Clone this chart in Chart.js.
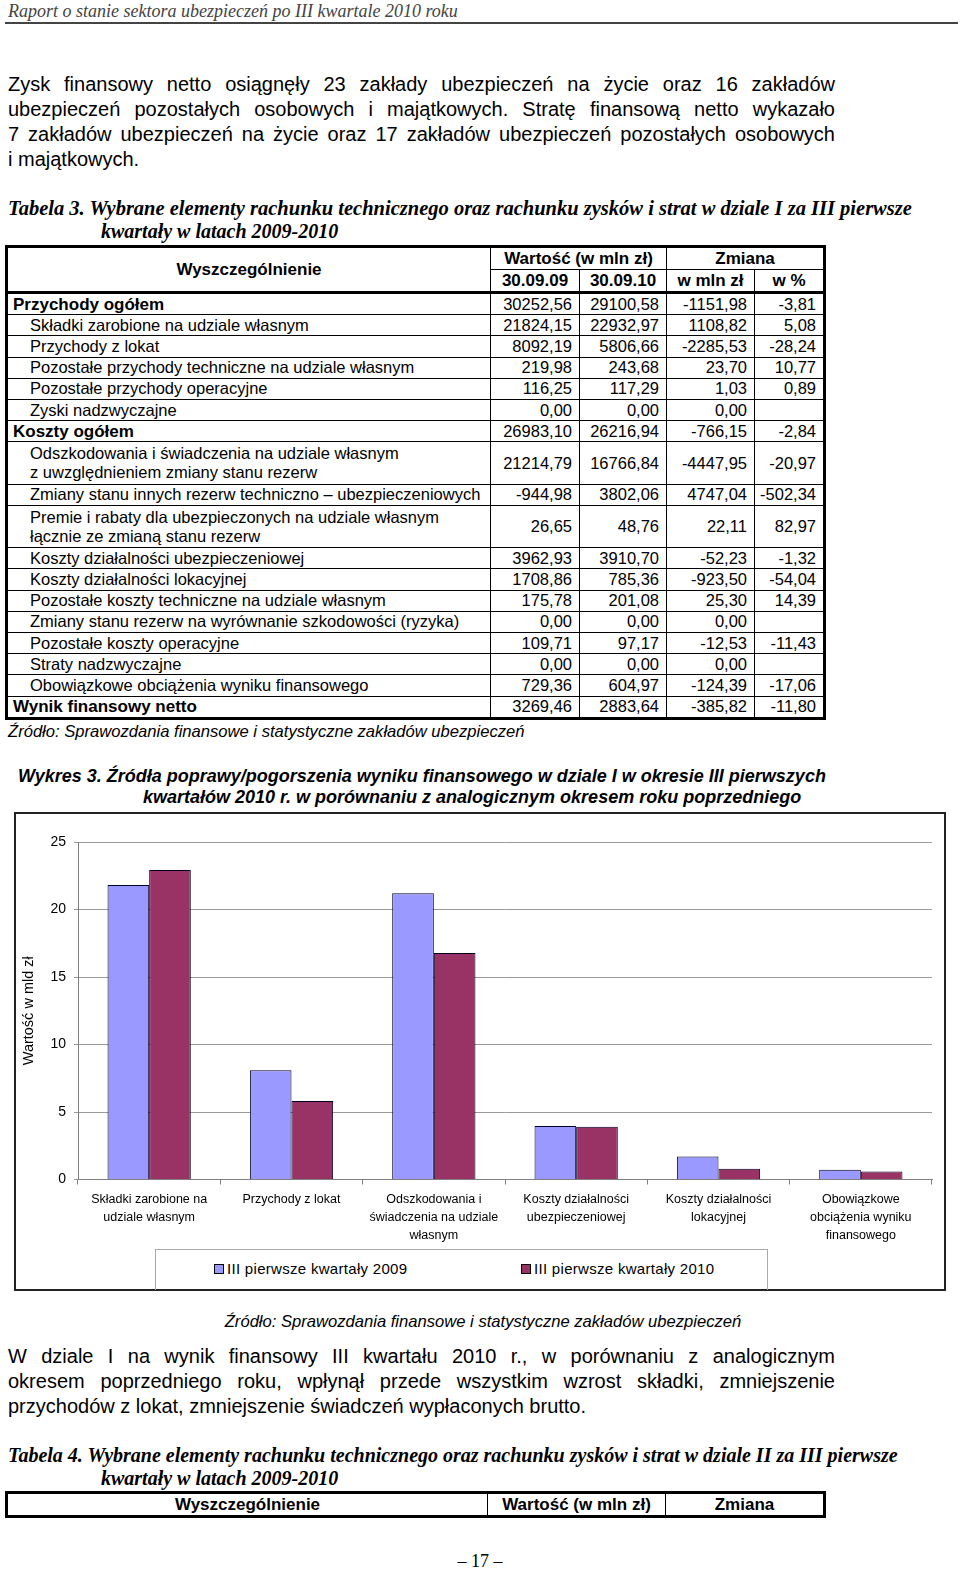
<!DOCTYPE html>
<html lang="pl">
<head>
<meta charset="utf-8">
<title>Raport o stanie sektora ubezpieczeń</title>
<script src="https://cdn.jsdelivr.net/npm/chart.js@4/dist/chart.umd.min.js"></script>
<style>
    html, body { margin: 0; padding: 0; background: #fff; }
    #page { position: relative; width: 960px; height: 1571px; overflow: hidden; color: #000; }
    .abs { position: absolute; }
    .head { left: 8px; top: 1px; font: italic 18px/20px "Liberation Serif", serif; color: #444; white-space: nowrap; }
    .rule { left: 5px; top: 22px; width: 953px; height: 2px; background: #444; }
    .para { left: 8px; width: 827px; font: 20px/25px "Liberation Sans", Arial, sans-serif; }
    .para div { white-space: nowrap; text-align: justify; text-align-last: justify; }
    .para div.last { text-align-last: left; }
    .ttl { font: italic bold 20px/23px "Liberation Serif", serif; white-space: nowrap; }
    .ttl span { display: block; }
    .ttl span + span { padding-left: 93px; }
    .src { font: italic 16.6px/20px "Liberation Sans", Arial, sans-serif; white-space: nowrap; }
    .wyk { font: italic bold 18px/21px "Liberation Sans", Arial, sans-serif; white-space: nowrap; }
    table { border-collapse: collapse; table-layout: fixed; font: 16.5px "Liberation Sans", Arial, sans-serif; }
    table.t { border: 3px solid #000; }
    table.t td, table.t th { border: 1px solid #000; padding: 0 7px 0 3px; white-space: nowrap; overflow: hidden; }
    table.t th { font-weight: bold; font-size: 17px; text-align: center; height: 21px; line-height: 18px; padding: 0 2px; }
    table.t tr.hb th { border-bottom: 3px solid #000; }
    table.t td { text-align: right; height: 20.2px; line-height: 19px; }
    table.t td.n { text-align: left; padding-left: 22px; }
    table.t td.n.b { font-weight: bold; font-size: 17px; padding-left: 5px; }
    table.t tr.dbl td { height: 41.4px; }
    #chartBox { left: 14px; top: 812px; width: 932px; height: 479px; border: 2px solid #222; box-sizing: border-box; }
    #chartWrap { left: 16px; top: 815px; width: 928px; height: 434px; }
    #legendBox { left: 155px; top: 1249px; width: 613px; height: 41px; border: 1px solid #aaa; border-bottom: none; box-sizing: border-box; font: 15px "Liberation Sans", Arial, sans-serif; }
    .lg { position: absolute; top: 10px; white-space: nowrap; line-height: 17px; letter-spacing: 0.3px; }
    .lg i { display: inline-block; width: 8px; height: 8px; border: 1px solid #000; margin-right: 3px; vertical-align: 0px; }
    .pnum { left: 0; width: 960px; top: 1551px; text-align: center; font: 18px/20px "Liberation Serif", serif; }
</style>
</head>
<body>
<div id="page">
    <div class="abs head">Raport o stanie sektora ubezpieczeń po III kwartale 2010 roku</div>
    <div class="abs rule"></div>

    <div class="abs para" style="top:72px">
        <div>Zysk finansowy netto osiągnęły 23 zakłady ubezpieczeń na życie oraz 16 zakładów</div>
        <div>ubezpieczeń pozostałych osobowych i majątkowych. Stratę finansową netto wykazało</div>
        <div>7 zakładów ubezpieczeń na życie oraz 17 zakładów ubezpieczeń pozostałych osobowych</div>
        <div class="last">i majątkowych.</div>
    </div>

    <div class="abs ttl" style="left:8px; top:197px; font-size:20.5px">
        <span>Tabela 3. Wybrane elementy rachunku technicznego oraz rachunku zysków i strat w dziale I za III pierwsze</span>
        <span style="font-size:20px">kwartały w latach 2009-2010</span>
    </div>

    <table class="abs t" id="tab3" style="left:5px; top:245px; width:818px">
        <colgroup><col style="width:484px"><col style="width:89px"><col style="width:87px"><col style="width:88px"><col style="width:70px"></colgroup>
        <thead>
            <tr><th rowspan="2" style="border-bottom:3px solid #000">Wyszczególnienie</th><th colspan="2">Wartość (w mln zł)</th><th colspan="2">Zmiana</th></tr>
            <tr class="hb"><th>30.09.09</th><th>30.09.10</th><th>w mln zł</th><th>w %</th></tr>
        </thead>
        <tbody id="tab3body"></tbody>
    </table>

    <div class="abs src" style="left:8px; top:722px">Źródło: Sprawozdania finansowe i statystyczne zakładów ubezpieczeń</div>

    <div class="abs wyk" style="left:18px; top:766px">Wykres 3. Źródła poprawy/pogorszenia wyniku finansowego w dziale I w okresie III pierwszych</div>
    <div class="abs wyk" style="left:143px; top:787px">kwartałów 2010 r. w porównaniu z analogicznym okresem roku poprzedniego</div>

    <div class="abs" id="chartBox"></div>
    <div class="abs" id="chartWrap"><canvas id="chart3" width="928" height="434"></canvas></div>
    <div class="abs" id="legendBox">
        <div class="lg" style="left:58px"><i style="background:#9999FF"></i>III pierwsze kwartały 2009</div>
        <div class="lg" style="left:365px"><i style="background:#993366"></i>III pierwsze kwartały 2010</div>
    </div>

    <div class="abs src" style="left:0; width:966px; text-align:center; top:1312px">Źródło: Sprawozdania finansowe i statystyczne zakładów ubezpieczeń</div>

    <div class="abs para" style="top:1344px">
        <div>W dziale I na wynik finansowy III kwartału 2010 r., w porównaniu z analogicznym</div>
        <div>okresem poprzedniego roku, wpłynął przede wszystkim wzrost składki, zmniejszenie</div>
        <div class="last">przychodów z lokat, zmniejszenie świadczeń wypłaconych brutto.</div>
    </div>

    <div class="abs ttl" style="left:8px; top:1444px">
        <span>Tabela 4. Wybrane elementy rachunku technicznego oraz rachunku zysków i strat w dziale II za III pierwsze</span>
        <span>kwartały w latach 2009-2010</span>
    </div>

    <table class="abs t" style="left:5px; top:1491px; width:818px">
        <colgroup><col style="width:481px"><col style="width:178px"><col style="width:159px"></colgroup>
        <tr><th style="height:21px">Wyszczególnienie</th><th>Wartość (w mln zł)</th><th>Zmiana</th></tr>
    </table>

    <div class="abs pnum">– 17 –</div>
</div>

<script>
/* -------- DATA -------- */
const categories = [
    ["Składki zarobione na", "udziale własnym"],
    ["Przychody z lokat"],
    ["Odszkodowania i", "świadczenia na udziale", "własnym"],
    ["Koszty działalności", "ubezpieczeniowej"],
    ["Koszty działalności", "lokacyjnej"],
    ["Obowiązkowe", "obciążenia wyniku", "finansowego"]
];
const seriesNames = ["III pierwsze kwartały 2009", "III pierwsze kwartały 2010"];
const values2009 = [21.82, 8.09, 21.21, 3.96, 1.71, 0.73];
const values2010 = [22.93, 5.81, 16.77, 3.91, 0.79, 0.60];
const yTicks = [0, 5, 10, 15, 20, 25];

// table 3 rows: name, 30.09.09, 30.09.10, change, change %, style
const tableRows = [
    ["Przychody ogółem", "30252,56", "29100,58", "-1151,98", "-3,81", "b"],
    ["Składki zarobione na udziale własnym", "21824,15", "22932,97", "1108,82", "5,08"],
    ["Przychody z lokat", "8092,19", "5806,66", "-2285,53", "-28,24"],
    ["Pozostałe przychody techniczne na udziale własnym", "219,98", "243,68", "23,70", "10,77"],
    ["Pozostałe przychody operacyjne", "116,25", "117,29", "1,03", "0,89"],
    ["Zyski nadzwyczajne", "0,00", "0,00", "0,00", ""],
    ["Koszty ogółem", "26983,10", "26216,94", "-766,15", "-2,84", "b"],
    ["Odszkodowania i świadczenia na udziale własnym<br>z uwzględnieniem zmiany stanu rezerw", "21214,79", "16766,84", "-4447,95", "-20,97", "d"],
    ["Zmiany stanu innych rezerw techniczno – ubezpieczeniowych", "-944,98", "3802,06", "4747,04", "-502,34"],
    ["Premie i rabaty dla ubezpieczonych na udziale własnym<br>łącznie ze zmianą stanu rezerw", "26,65", "48,76", "22,11", "82,97", "d"],
    ["Koszty działalności ubezpieczeniowej", "3962,93", "3910,70", "-52,23", "-1,32"],
    ["Koszty działalności lokacyjnej", "1708,86", "785,36", "-923,50", "-54,04"],
    ["Pozostałe koszty techniczne na udziale własnym", "175,78", "201,08", "25,30", "14,39"],
    ["Zmiany stanu rezerw na wyrównanie szkodowości (ryzyka)", "0,00", "0,00", "0,00", ""],
    ["Pozostałe koszty operacyjne", "109,71", "97,17", "-12,53", "-11,43"],
    ["Straty nadzwyczajne", "0,00", "0,00", "0,00", ""],
    ["Obowiązkowe obciążenia wyniku finansowego", "729,36", "604,97", "-124,39", "-17,06"],
    ["Wynik finansowy netto", "3269,46", "2883,64", "-385,82", "-11,80", "b"]
];

/* -------- TABLE -------- */
const tbody = document.getElementById("tab3body");
tableRows.forEach(r => {
    const tr = document.createElement("tr");
    if (r[5] === "d") tr.className = "dbl";
    let html = `<td class="n${r[5] === "b" ? " b" : ""}">${r[0]}</td>`;
    for (let i = 1; i <= 4; i++) html += `<td>${r[i]}</td>`;
    tr.innerHTML = html;
    tbody.appendChild(tr);
});

/* -------- CHART -------- */
const FONT = "'Liberation Sans', Arial, sans-serif";
new Chart(document.getElementById("chart3").getContext("2d"), {
    type: "bar",
    data: {
        labels: categories,
        datasets: [
            { label: seriesNames[0], data: values2009, backgroundColor: "#9999FF", borderColor: "#000022", borderWidth: 1, categoryPercentage: 0.585, barPercentage: 1 },
            { label: seriesNames[1], data: values2010, backgroundColor: "#993366", borderColor: "#000022", borderWidth: 1, categoryPercentage: 0.585, barPercentage: 1 }
        ]
    },
    options: {
        responsive: false,
        animation: false,
        layout: { padding: { top: 27, right: 12, left: 0, bottom: 0 } },
        plugins: { legend: { display: false }, tooltip: { enabled: false } },
        scales: {
            x: {
                grid: { offset: true, drawOnChartArea: false, drawTicks: true, tickLength: 5, color: "#808080" },
                border: { color: "#808080" },
                ticks: { color: "#000", font: { family: FONT, size: 12.5, lineHeight: 1.44 }, padding: 6.5, maxRotation: 0, autoSkip: false },
                afterFit(scale) { scale.height = 69.5; }
            },
            y: {
                min: 0, max: 25,
                afterBuildTicks(scale) { scale.ticks = yTicks.map(v => ({ value: v })); },
                grid: { color: "#999", tickLength: 4 },
                border: { color: "#808080" },
                ticks: { color: "#000", font: { family: FONT, size: 14 }, padding: 8 },
                title: { display: true, text: "Wartość w mld zł", color: "#000", font: { family: FONT, size: 14.5 }, padding: { top: 4, bottom: 0 } },
                afterFit(scale) { scale.width = 62; }
            }
        }
    }
});
</script>
</body>
</html>
